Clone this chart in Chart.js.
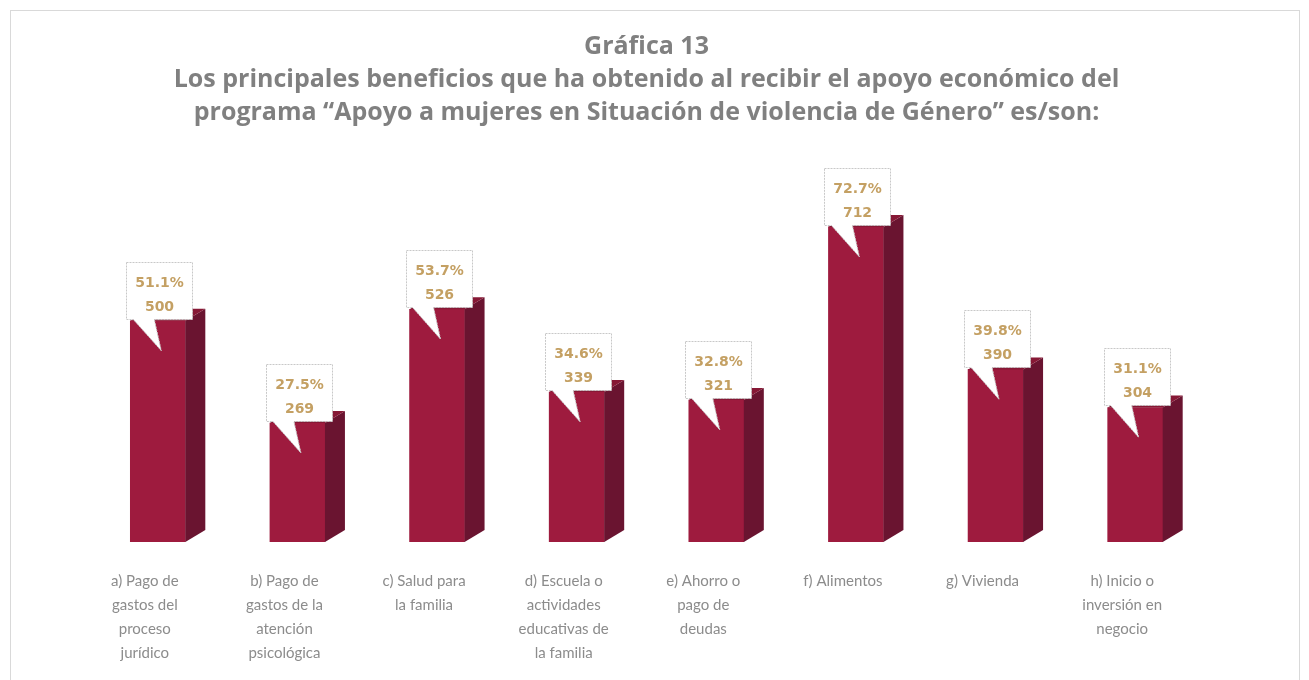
<!DOCTYPE html>
<html>
<head>
<meta charset="utf-8">
<script src="https://cdn.jsdelivr.net/npm/chart.js@4"></script>
<style>
  html, body { margin: 0; padding: 0; background: #fff; }
  #wrap { position: relative; width: 1309px; height: 680px; overflow: hidden; }
  #frame { position: absolute; left: 10px; top: 10px; width: 1290px; height: 700px; border: 1px solid #d9d9d9; box-sizing: border-box; }
  canvas { position: absolute; left: 0; top: 0; }
</style>
</head>
<body>
<div id="wrap">
  <div id="frame"></div>
  <canvas id="myChart" width="1309" height="680"></canvas>
</div>
<script>
// datos de la gráfica
const categorias = [
  ['a) Pago de', 'gastos del', 'proceso', 'jurídico'],
  ['b) Pago de', 'gastos de la', 'atención', 'psicológica'],
  ['c) Salud para', 'la familia'],
  ['d) Escuela o', 'actividades', 'educativas de', 'la familia'],
  ['e) Ahorro o', 'pago de', 'deudas'],
  ['f) Alimentos'],
  ['g) Vivienda'],
  ['h) Inicio o', 'inversión en', 'negocio']
];
const casos = [500, 269, 526, 339, 321, 712, 390, 304];
const porcentajes = [51.1, 27.5, 53.7, 34.6, 32.8, 72.7, 39.8, 31.1];

const titulo = [
  'Gráfica 13',
  'Los principales beneficios que ha obtenido al recibir el apoyo económico del',
  'programa “Apoyo a mujeres en Situación de violencia de Género” es/son:'
];

// caras laterales y superiores para el efecto 3D
const barras3d = {
  id: 'barras3d',
  afterDatasetsDraw(chart) {
    const ctx = chart.ctx;
    const meta = chart.getDatasetMeta(0);
    const base = chart.scales.y.getPixelForValue(0);
    const dx = 20, dy = 12;
    ctx.save();
    meta.data.forEach(bar => {
      const l = bar.x - bar.width / 2, r = bar.x + bar.width / 2, t = bar.y;
      ctx.fillStyle = '#6a1430';
      ctx.beginPath();
      ctx.moveTo(r, t); ctx.lineTo(r + dx, t - dy); ctx.lineTo(r + dx, base - dy); ctx.lineTo(r, base);
      ctx.closePath(); ctx.fill();
      ctx.fillStyle = '#861835';
      ctx.beginPath();
      ctx.moveTo(l, t); ctx.lineTo(l + dx, t - dy); ctx.lineTo(r + dx, t - dy); ctx.lineTo(r, t);
      ctx.closePath(); ctx.fill();
    });
    ctx.restore();
  }
};

// globos con porcentaje y número de casos
const globos = {
  id: 'globos',
  afterDatasetsDraw(chart) {
    const ctx = chart.ctx;
    const meta = chart.getDatasetMeta(0);
    ctx.save();
    meta.data.forEach((bar, i) => {
      const fl = bar.x - bar.width / 2;
      const L = Math.round(fl - 4) + 0.5, R = L + 66, T = Math.round(bar.y - 59) + 0.5, B = Math.round(bar.y - 2) + 0.5;
      ctx.beginPath();
      ctx.moveTo(L, T); ctx.lineTo(R, T); ctx.lineTo(R, B);
      ctx.lineTo(fl + 24, B); ctx.lineTo(fl + 31, bar.y + 30); ctx.lineTo(fl + 3, B);
      ctx.lineTo(L, B); ctx.closePath();
      ctx.fillStyle = '#ffffff';
      ctx.fill();
      ctx.setLineDash([2, 1]);
      ctx.strokeStyle = '#c8c8c8';
      ctx.lineWidth = 1;
      ctx.stroke();
      ctx.setLineDash([]);
      ctx.fillStyle = '#c4a063';
      ctx.font = 'bold 14px "DejaVu Sans"';
      ctx.textAlign = 'center';
      ctx.textBaseline = 'middle';
      const cx = (L + R) / 2;
      ctx.fillText(porcentajes[i].toFixed(1) + '%', cx, T + 21);
      ctx.fillText(String(casos[i]), cx, T + 45);
    });
    ctx.restore();
  }
};

const ctx = document.getElementById('myChart').getContext('2d');
const myChart = new Chart(ctx, {
  type: 'bar',
  data: {
    labels: categorias,
    datasets: [{
      data: casos,
      backgroundColor: '#9e1b3e',
      borderWidth: 0,
      barThickness: 55
    }]
  },
  options: {
    responsive: false,
    animation: false,
    layout: { padding: { left: 88, right: 104, top: 30, bottom: 0 } },
    plugins: {
      legend: { display: false },
      tooltip: { enabled: false },
      title: {
        display: true,
        text: titulo,
        color: '#808080',
        font: { family: 'Open Sans', size: 25, weight: 'bold', lineHeight: 1.32 },
        padding: { top: 0, bottom: 59 }
      }
    },
    scales: {
      x: {
        grid: { display: false },
        border: { display: false },
        ticks: {
          color: '#8c8c8c',
          font: { family: 'Lato', size: 15, lineHeight: 1.6 },
          padding: 19,
          labelOffset: -13,
          maxRotation: 0,
          autoSkip: false
        },
        afterFit(scale) { scale.height = 138; }
      },
      y: {
        display: false,
        min: 0,
        max: 800
      }
    }
  },
  plugins: [barras3d, globos]
});
</script>
</body>
</html>
